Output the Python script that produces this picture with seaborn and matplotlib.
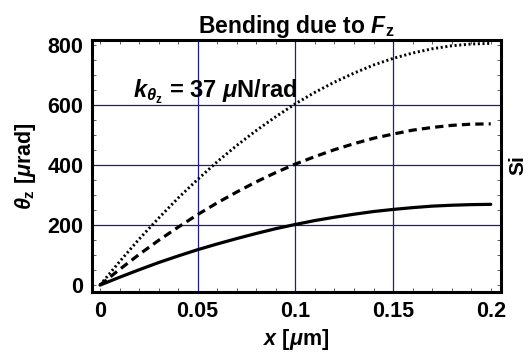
import numpy as np
import pandas as pd
import matplotlib
matplotlib.use('Agg')
import matplotlib.pyplot as plt
import seaborn as sns
from matplotlib.ticker import MultipleLocator

# values (x in um, theta in urad)
x_um = [0.00, 0.01, 0.02, 0.03, 0.04, 0.05, 0.06, 0.07, 0.08, 0.09, 0.10,
        0.11, 0.12, 0.13, 0.14, 0.15, 0.16, 0.17, 0.18, 0.19, 0.20]
theta_solid = [0, 26, 51, 75, 97, 118, 137, 155, 172, 188, 202,
               215, 226, 236, 245, 252, 258, 263, 266, 268, 269]
theta_dashed = [0, 52, 102, 149, 193, 235, 274, 310, 344, 375, 403,
                428, 451, 471, 489, 503, 516, 525, 532, 536, 537]
theta_dotted = [0, 78, 153, 223, 290, 352, 411, 465, 515, 561, 604,
                642, 676, 706, 733, 755, 773, 787, 797, 803, 805]

x_ticks = [0, 0.05, 0.1, 0.15, 0.2]
x_tick_labels = ['0', '0.05', '0.1', '0.15', '0.2']
y_ticks = [0, 200, 400, 600, 800]

sns.set_style('ticks')
plt.rcParams['font.family'] = ['Liberation Sans', 'DejaVu Sans']
plt.rcParams['font.weight'] = 'bold'
plt.rcParams['mathtext.fontset'] = 'custom'
plt.rcParams['mathtext.rm'] = 'Liberation Sans:bold'
plt.rcParams['mathtext.it'] = 'Liberation Sans:italic'
plt.rcParams['mathtext.bf'] = 'Liberation Sans:bold'
plt.rcParams['mathtext.bfit'] = 'Liberation Sans:bold:italic'

df = pd.DataFrame({'x': x_um, 'solid': theta_solid,
                   'dashed': theta_dashed, 'dotted': theta_dotted})

fig = plt.figure(figsize=(5.28, 3.6), dpi=100)
ax = fig.add_axes([91.7 / 528, 1 - 292.3 / 360, (500.7 - 91.7) / 528, (292.3 - 39.5) / 360])

# grid
grid_col = '#1c1c90'
for gx in [0.05, 0.1, 0.15]:
    ax.axvline(gx, color=grid_col, lw=0.9, zorder=1)
for gy in [200, 400, 600]:
    ax.axhline(gy, color=grid_col, lw=0.9, zorder=1)

sns.lineplot(data=df, x='x', y='solid', ax=ax, color='black', lw=2.3, zorder=3)
sns.lineplot(data=df, x='x', y='dashed', ax=ax, color='black', lw=2.3,
             linestyle=(0, (2.6, 1.6)), zorder=3)
sns.lineplot(data=df, x='x', y='dotted', ax=ax, color='black', lw=2.1,
             linestyle=(0, (0.7, 0.9)), zorder=3)

ax.set_xlim(-0.00425, 0.2051)
ax.set_ylim(-24, 818)
ax.set_xticks(x_ticks)
ax.set_xticklabels(x_tick_labels)
ax.set_yticks(y_ticks)
ax.xaxis.set_minor_locator(MultipleLocator(0.01))
ax.yaxis.set_minor_locator(MultipleLocator(50))
ax.tick_params(which='both', direction='in', top=True, right=True,
               length=3, width=0.6, color='#444444')
ax.tick_params(axis='both', which='major', labelsize=15.5, pad=6,
               labelcolor='black')
for lab in ax.get_xticklabels() + ax.get_yticklabels():
    lab.set_fontweight('bold')
for sp in ax.spines.values():
    sp.set_linewidth(2.2)
    sp.set_color('black')

ax.set_title(r'Bending due to $\mathbfit{F}_\mathbf{z}$', fontsize=16.5,
             fontweight='bold', pad=4, color='black')
ax.set_xlabel(r'$\mathbfit{x}$ [$\mu$m]', fontsize=15.5, fontweight='bold',
              labelpad=4, color='black')
ax.set_ylabel(r'$\theta_\mathbf{z}$ [$\mu$rad]', fontsize=15.5, fontweight='bold',
              labelpad=7, color='black')

ax.text(0.017, 643, r'$\mathbfit{k}_{\theta_\mathbf{z}}$ = 37 $\mu$N/rad', fontsize=17,
        fontweight='bold', va='center', ha='left', zorder=4, color='black')

fig.text(508 / 528, 1 - 165 / 360, 'Si', rotation=90, fontsize=15, fontweight='bold',
         va='center', ha='left', color='black')

fig.savefig('out.png', dpi=100)
